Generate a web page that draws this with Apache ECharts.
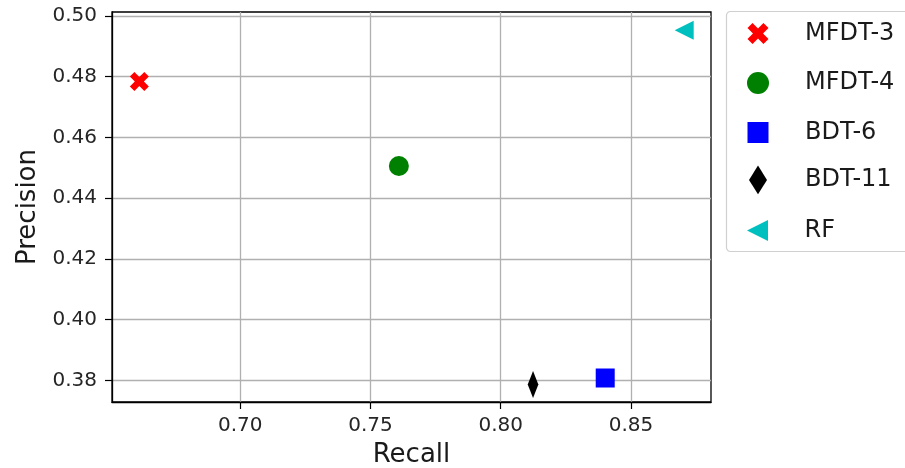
<!DOCTYPE html>
<html><head><meta charset="utf-8">
<script src="https://cdn.jsdelivr.net/npm/echarts@6/dist/echarts.min.js"></script>
<style>html,body{margin:0;padding:0;background:#fff}#c{width:905px;height:468px}</style>
</head><body><div id="c"></div>
<script>
const seriesNames = ['MFDT-3', 'MFDT-4', 'BDT-6', 'BDT-11', 'RF'];
const recall = [0.6613, 0.7609, 0.8401, 0.8124, 0.8704];
const precision = [0.4784, 0.4506, 0.3808, 0.3787, 0.4953];
const colors = ['#ff0000', '#008000', '#0000ff', '#000000', '#00bfbf'];
const xTicks = [0.70, 0.75, 0.80, 0.85];
const yTicks = [0.38, 0.40, 0.42, 0.44, 0.46, 0.48, 0.50];

const X_PATH = 'path://M0,2.4 L2.4,0 L5,2.6 L7.6,0 L10,2.4 L7.4,5 L10,7.6 L7.6,10 L5,7.4 L2.4,10 L0,7.6 L2.6,5 Z';
const D_PATH = 'path://M5,0 L10,8 L5,16 L0,8 Z';
const T_PATH = 'path://M0,5 L10,0 L10,10 Z';
const S_PATH = 'path://M0,0 L10,0 L10,10 L0,10 Z';
const symbols = [X_PATH, 'circle', S_PATH, D_PATH, T_PATH];
const sizes = [[19, 19], [20, 20], [19, 19], [17, 27], [19, 19]];
const legendSizes = [[21, 21], [22, 22], [21, 21], [18, 29], [22, 21]];

const FONT = 'DejaVu Sans';
const chart = echarts.init(document.getElementById('c'), null, {renderer: 'canvas'});
const axisCommon = {
  axisLine: {show: true, onZero: false, lineStyle: {color: '#000', width: 1.3}},
  splitLine: {show: true, lineStyle: {color: '#b0b0b0', width: 1.3}},
  nameTextStyle: {fontFamily: FONT, fontSize: 26, color: '#1a1a1a'},
};
const tickStyle = {show: true, length: 7, inside: false, lineStyle: {color: '#000', width: 1.2}};

const legendRowsY = [32, 82, 131, 180, 229];
const legendIconX = 758, legendTextX = 805;
const legends = seriesNames.map((n, i) => {
  const w = legendSizes[i][0], h = legendSizes[i][1];
  const left = legendIconX - w / 2;
  return {
    orient: 'vertical', left: left, top: legendRowsY[i] - h / 2,
    itemWidth: w, itemHeight: h, padding: 0, selectedMode: false,
    textStyle: {fontFamily: FONT, fontSize: 24, color: '#1a1a1a', lineHeight: 14,
      padding: [0, 0, 0, legendTextX - (left + w + 5)]},
    data: [{name: n, icon: symbols[i]}],
  };
});

chart.setOption({
  animation: false,
  grid: {left: 112, top: 12, width: 599, height: 390, outerBoundsMode: 'none', containLabel: false,
    show: true, borderColor: '#000', borderWidth: 1.3, backgroundColor: 'transparent'},
  xAxis: Object.assign({}, axisCommon, {
    type: 'value', min: 0.6508, max: 0.8807,
    name: 'Recall', nameLocation: 'middle', nameGap: 40,
    axisTick: Object.assign({}, tickStyle, {customValues: xTicks}),
    axisLabel: {customValues: xTicks, formatter: v => v.toFixed(2), fontFamily: FONT, fontSize: 20, color: '#262626', margin: 14},
  }),
  yAxis: Object.assign({}, axisCommon, {
    type: 'value', min: 0.3729, max: 0.5013,
    name: 'Precision', nameLocation: 'middle', nameGap: 71,
    axisTick: Object.assign({}, tickStyle, {customValues: yTicks}),
    axisLabel: {customValues: yTicks, formatter: v => v.toFixed(2), fontFamily: FONT, fontSize: 20, color: '#262626', margin: 15, padding: [8, 0, 0, 0]},
  }),
  legend: legends,
  graphic: [{
    type: 'rect', left: 724, top: 9, shape: {width: 220, height: 240, r: 4},
    style: {fill: 'none', stroke: '#d0d0d0', lineWidth: 1.2}, z: 0
  }],
  series: seriesNames.map((n, i) => ({
    name: n, type: 'scatter', symbol: symbols[i], symbolSize: sizes[i],
    symbolKeepAspect: true,
    itemStyle: {color: colors[i], opacity: 1},
    data: [[recall[i], precision[i]]], z: 5
  })),
});
</script></body></html>
